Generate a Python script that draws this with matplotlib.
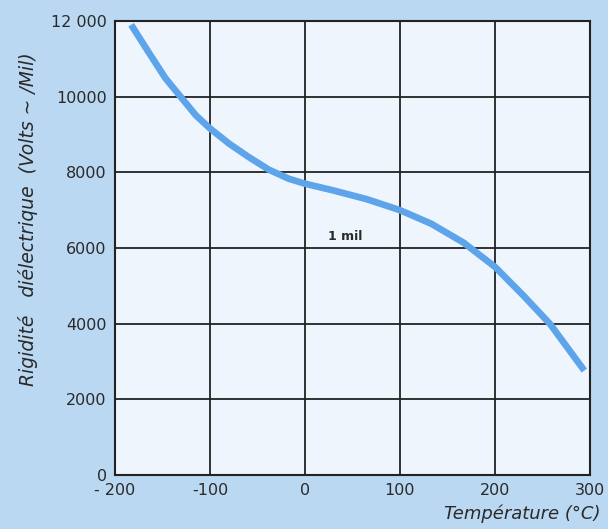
import matplotlib.pyplot as plt

# values
temp = [-183, -164, -147, -131, -115, -100, -80, -59, -38, -17, 0,
        30, 65, 100, 133, 167, 200, 230, 258, 294]
rigid = [11900, 11150, 10490, 10000, 9510, 9160, 8760, 8400, 8070, 7830, 7700,
         7520, 7290, 7000, 6640, 6140, 5500, 4740, 3990, 2760]

xticks = [-200, -100, 0, 100, 200, 300]
xlabels = ['- 200', '-100', '0', '100', '200', '300']
yticks = [0, 2000, 4000, 6000, 8000, 10000, 12000]
ylabels = ['0', '2000', '4000', '6000', '8000', '10000', '12 000']

outer = '#bad8f1'
inner = '#eef5fc'
curve = '#5da4ea'

fig = plt.figure(figsize=(6.08, 5.29), dpi=100, facecolor=outer)
ax = fig.add_axes([115/608, 54/529, 475/608, 454/529])
ax.set_facecolor(inner)

ax.plot(temp, rigid, color=curve, lw=4.8, solid_capstyle='butt',
        solid_joinstyle='round', zorder=3)

ax.set_xlim(-200, 300)
ax.set_ylim(0, 12000)
ax.set_xticks(xticks)
ax.set_xticklabels(xlabels)
ax.set_yticks(yticks)
ax.set_yticklabels(ylabels)
ax.tick_params(length=0, labelsize=11.5, colors='#2a2a2a', pad=6)
ax.grid(True, color='#222222', lw=1.3)
ax.set_axisbelow(True)
for s in ax.spines.values():
    s.set_color('#222222')
    s.set_linewidth(1.5)

ax.text(42, 6300, '1 mil', fontsize=9, fontweight='bold', color='#2a2a2a',
        ha='center', va='center')

fig.text(28/608, 1 - 219/529, u'Rigidité   diélectrique  (Volts \u223c /Mil)',
         rotation=90, style='italic', fontsize=13.5, color='#2a2a2a',
         ha='center', va='center')
fig.text(600/608, 1 - 514/529, 'Température (°C)', style='italic',
         fontsize=13, color='#2a2a2a', ha='right', va='center')

fig.savefig('out.png', dpi=100, facecolor=outer)
